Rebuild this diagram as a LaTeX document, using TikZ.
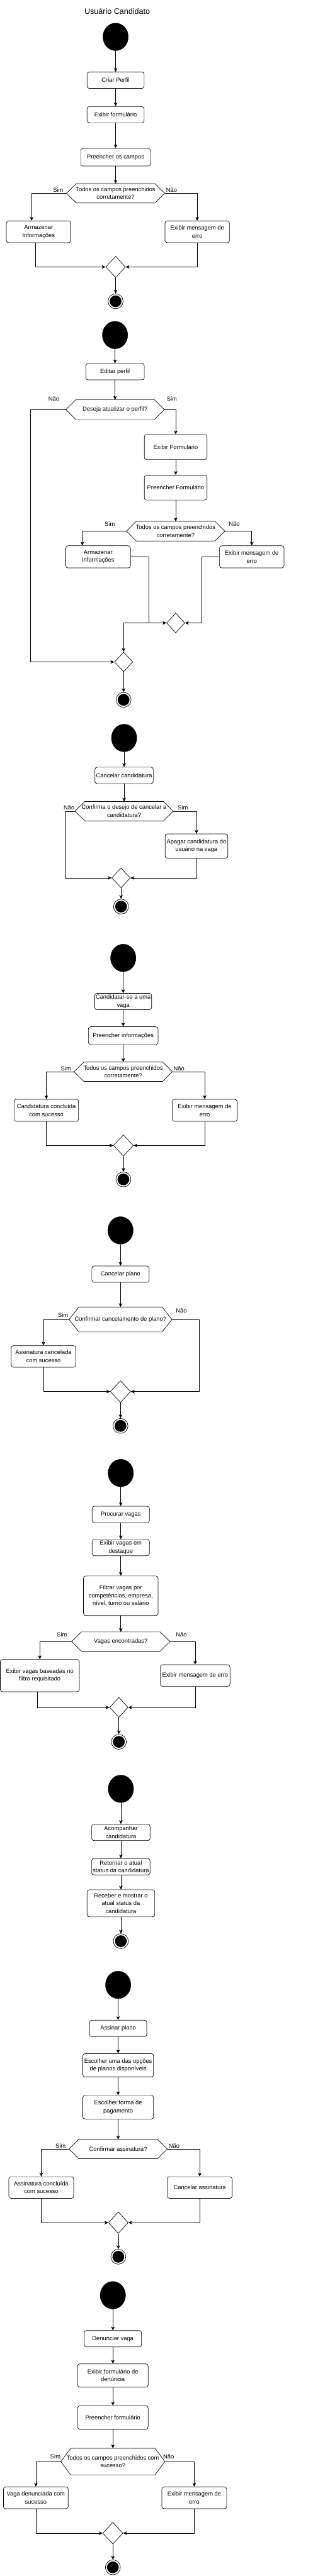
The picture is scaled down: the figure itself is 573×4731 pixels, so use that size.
\documentclass[tikz,border=0pt]{standalone}
\usepackage{fontspec}
\setmainfont{Liberation Sans}
\usetikzlibrary{shapes.geometric,arrows.meta,calc}
\newcommand{\dfont}{\fontsize{10.8pt}{14.5pt}\selectfont}
\newcommand{\hexdraw}[1]{\draw[line width=0.8pt] ([xshift=18pt]#1.north west) -- ([xshift=-18pt]#1.north east) -- (#1.east) -- ([xshift=-18pt]#1.south east) -- ([xshift=18pt]#1.south west) -- (#1.west) -- cycle;}
\tikzset{
  act/.style={draw, rounded corners=4pt, line width=0.8pt, align=center, inner sep=0pt, font=\dfont},
  dec/.style={draw=none, align=center, inner sep=0pt, font=\dfont},
  lbl/.style={font=\dfont, inner sep=0pt},
  startn/.style={ellipse, fill=black, draw=black, inner sep=0pt, minimum width=46.6pt, minimum height=50.6pt},
  endn/.style={circle, draw, line width=0.8pt, fill=white, minimum size=27.4pt, inner sep=0pt,
     path picture={\fill[black] (path picture bounding box.center) circle (10.8pt);}},
  merge/.style={diamond, draw, line width=0.8pt, inner sep=0pt},
  arr/.style={-{Stealth[length=7pt,width=6.5pt,inset=2pt]}, line width=0.8pt},
}
\begin{document}
\begin{tikzpicture}[x=1pt,y=-1pt]
\useasboundingbox (0,0) rectangle (573,4731);
\node[font=\fontsize{14.5pt}{17pt}\selectfont, inner sep=0pt] (title) at (215,21) {Usuário Candidato};

% ---------- Section 1
\node[startn] (s1) at (212,67.7) {};
\node[act, minimum width=104.7pt, minimum height=30pt] (b1) at (212,147.3) {Criar Perfil};
\node[act, minimum width=104.7pt, minimum height=29.7pt] (b2) at (212,210.5) {Exibir formulário};
\node[act, minimum width=128pt, minimum height=32.3pt] (b3) at (212,288.8) {Preencher os campos};
\node[dec, minimum width=180pt, minimum height=35pt] (d1) at (212,355) {Todos os campos preenchidos\\corretamente?};
\hexdraw{d1}
\node[lbl] (l1s) at (106.7,349.3) {Sim};
\node[lbl] (l1n) at (314.7,349.3) {Não};
\node[act, minimum width=118.3pt, minimum height=40pt] (a1) at (70.8,425.7) {Armazenar\\Informações};
\node[act, minimum width=118.3pt, minimum height=40pt] (e1) at (361.7,425.7) {Exibir mensagem de\\erro};
\node[merge, minimum width=36pt, minimum height=39.3pt] (m1) at (212,490.3) {};
\node[endn] (f1) at (212,553.3) {};
\draw[arr] (s1) -- (b1);
\draw[arr] (b1) -- (b2);
\draw[arr] (b2) -- (b3);
\draw[arr] (b3) -- (d1);
\draw[arr] (d1.west) -| ([xshift=-12.8pt]a1.north);
\draw[arr] (d1.east) -| (e1.north);
\draw[arr] ([xshift=-5.8pt]a1.south) |- (m1.west);
\draw[arr] (e1.south) |- (m1.east);
\draw[arr] (m1) -- (f1);

% ---------- Section 2
\node[startn] (s2) at (211,615.3) {};
\node[act, minimum width=107.3pt, minimum height=30pt] (b4) at (211,682.7) {Editar perfil};
\node[dec, minimum width=180pt, minimum height=35.7pt] (d2) at (211,752.2) {Deseja atualizar o perfil?};
\hexdraw{d2}
\node[lbl] (l2n) at (98.7,732.7) {Não};
\node[lbl] (l2s) at (315.3,732) {Sim};
\node[act, minimum width=115pt, minimum height=45.7pt] (b5) at (322.2,821) {Exibir Formulário};
\node[act, minimum width=115pt, minimum height=45.7pt] (b6) at (322.2,895.5) {Preencher Formulário};
\node[dec, minimum width=180pt, minimum height=35.7pt] (d3) at (322.2,975.5) {Todos os campos preenchidos\\corretamente?};
\hexdraw{d3}
\node[lbl] (l3s) at (201.3,962.7) {Sim};
\node[lbl] (l3n) at (429.7,962.7) {Não};
\node[act, minimum width=118.7pt, minimum height=40.7pt] (a2) at (180,1022.7) {Armazenar\\Informações};
\node[act, minimum width=118.3pt, minimum height=40.7pt] (e2) at (461.8,1022.7) {Exibir mensagem de\\erro};
\node[merge, minimum width=33.3pt, minimum height=36.7pt] (m2) at (322.2,1144) {};
\node[merge, minimum width=33.7pt, minimum height=36pt] (m3) at (226.7,1215.7) {};
\node[endn] (f2) at (226.7,1285.3) {};
\draw[arr] (s2) -- (b4);
\draw[arr] (b4) -- (d2);
\draw[arr] (d2.east) -| (b5.north);
\draw[arr] (b5) -- (b6);
\draw[arr] (b6) -- (d3);
\draw[arr] (d3.west) -| ([xshift=-29pt]a2.north);
\draw[arr] (d3.east) -| (e2.north);
\draw[arr] (a2.east) -- ++(33,0) |- (m2.west);
\draw[arr] (e2.west) -- ++(-32,0) |- (m2.east);
\draw[arr] (m2.west) -| (m3.north);
\draw[arr] (d2.west) -- ++(-65,0) |- (m3.west);
\draw[arr] (m3) -- (f2);

% ---------- Section 3
\node[startn] (s3) at (227.6,1355.3) {};
\node[act, minimum width=107pt, minimum height=30pt] (b7) at (227.6,1424) {Cancelar candidatura};
\node[dec, minimum width=180pt, minimum height=35pt] (d4) at (227.6,1489.8) {Confirma o desejo de cancelar a\\candidatura?};
\hexdraw{d4}
\node[lbl] (l4n) at (126.7,1483.7) {Não};
\node[lbl] (l4s) at (335.3,1483.7) {Sim};
\node[act, minimum width=115pt, minimum height=44.3pt] (b8) at (360.3,1553.8) {Apagar candidatura do\\usuário na vaga};
\node[merge, minimum width=34pt, minimum height=36.7pt] (m4) at (222,1612.3) {};
\node[endn] (f3) at (222,1665) {};
\draw[arr] (s3) -- (b7);
\draw[arr] (b7) -- (d4);
\draw[arr] (d4.east) -| (b8.north);
\draw[arr] (b8.south) |- (m4.east);
\draw[arr] (d4.west) -- ++(-18.4,0) |- (m4.west);
\draw[arr] (m4) -- (f3);

% ---------- Section 4
\node[startn] (s4) at (226,1759.3) {};
\node[act, minimum width=104.3pt, minimum height=30pt] (b9) at (226,1839.3) {Candidatar-se a uma\\vaga};
\node[act, minimum width=127.7pt, minimum height=32.7pt] (b10) at (226,1902) {Preencher informações};
\node[dec, minimum width=180pt, minimum height=35.3pt] (d5) at (226,1968.3) {Todos os campos preenchidos\\corretamente?};
\hexdraw{d5}
\node[lbl] (l5s) at (121,1962.3) {Sim};
\node[lbl] (l5n) at (328.3,1962.3) {Não};
\node[act, minimum width=118.3pt, minimum height=40.3pt] (a3) at (85,2039.2) {Candidatura concluída\\com sucesso};
\node[act, minimum width=118.7pt, minimum height=40.3pt] (e3) at (375.5,2039.2) {Exibir mensagem de\\erro};
\node[merge, minimum width=36.3pt, minimum height=39.3pt] (m5) at (226.3,2103.7) {};
\node[endn] (f4) at (226.3,2166) {};
\draw[arr] (s4) -- (b9);
\draw[arr] (b9) -- (b10);
\draw[arr] (b10) -- (d5);
\draw[arr] (d5.west) -| (a3.north);
\draw[arr] (d5.east) -| (e3.north);
\draw[arr] (a3.south) |- (m5.west);
\draw[arr] (e3.south) |- (m5.east);
\draw[arr] (m5) -- (f4);

% ---------- Section 5
\node[startn] (s5) at (221,2259.7) {};
\node[act, minimum width=105pt, minimum height=30pt] (b11) at (221,2340) {Cancelar plano};
\node[dec, minimum width=188.3pt, minimum height=45.3pt] (d6) at (221,2423.3) {Confirmar cancelamento de plano?};
\hexdraw{d6}
\node[lbl] (l6s) at (115.7,2415.7) {Sim};
\node[lbl] (l6n) at (332.7,2406.7) {Não};
\node[act, minimum width=118.3pt, minimum height=39.7pt] (a4) at (79.7,2491.2) {Assinatura cancelada\\com sucesso};
\node[merge, minimum width=37.3pt, minimum height=40pt] (m6) at (221,2555.7) {};
\node[endn] (f5) at (221,2618.7) {};
\draw[arr] (s5) -- (b11);
\draw[arr] (b11) -- (d6);
\draw[arr] (d6.west) -| (a4.north);
\draw[arr] (d6.east) -- ++(50.4,0) |- (m6.east);
\draw[arr] (a4.south) |- (m6.west);
\draw[arr] (m6) -- (f5);

% ---------- Section 6
\node[startn] (s6) at (221.5,2705.3) {};
\node[act, minimum width=105pt, minimum height=30.3pt] (b12) at (221.5,2781.5) {Procurar vagas};
\node[act, minimum width=105pt, minimum height=30pt] (b13) at (221.5,2842.3) {Exibir vagas em\\destaque};
\node[act, minimum width=136.7pt, minimum height=72.7pt] (b14) at (221.5,2930.7) {Filtrar vagas por\\competências, empresa,\\nível, turno ou salário};
\node[dec, minimum width=180pt, minimum height=35pt] (d7) at (221.5,3014.8) {Vagas encontradas?};
\hexdraw{d7}
\node[lbl] (l7s) at (113.7,3001.7) {Sim};
\node[lbl] (l7n) at (332.7,3001.7) {Não};
\node[act, minimum width=145pt, minimum height=59.3pt] (a5) at (73,3077.3) {Exibir vagas baseadas no\\filtro requisitado};
\node[act, minimum width=127.7pt, minimum height=39.7pt] (e5) at (358,3077.2) {Exibir mensagem de erro};
\node[merge, minimum width=33.7pt, minimum height=36.7pt] (m7) at (218,3135.7) {};
\node[endn] (f6) at (218,3199) {};
\draw[arr] (s6) -- (b12);
\draw[arr] (b12) -- (b13);
\draw[arr] (b13) -- (b14);
\draw[arr] (b14) -- (d7);
\draw[arr] (d7.west) -| (a5.north);
\draw[arr] (d7.east) -| (e5.north);
\draw[arr] ([xshift=-4.7pt]a5.south) |- (m7.west);
\draw[arr] (e5.south) |- (m7.east);
\draw[arr] (m7) -- (f6);

% ---------- Section 7
\node[startn] (s7) at (221.7,3285.3) {};
\node[act, minimum width=107pt, minimum height=30pt] (b15) at (221.7,3365.3) {Acompanhar\\candidatura};
\node[act, minimum width=107pt, minimum height=30pt] (b16) at (221.7,3428.3) {Retornar o atual\\status da candidatura};
\node[act, minimum width=124pt, minimum height=49.7pt] (b17) at (221.7,3495.5) {Receber e mostrar o\\atual status da\\candidatura};
\node[endn] (f7) at (221.7,3565) {};
\draw[arr] (s7) -- (b15);
\draw[arr] (b15) -- (b16);
\draw[arr] (b16) -- (b17);
\draw[arr] (b17) -- (f7);

% ---------- Section 8
\node[startn] (s8) at (216.7,3645.3) {};
\node[act, minimum width=105pt, minimum height=30pt] (b18) at (216.7,3725.3) {Assinar plano};
\node[act, minimum width=129.7pt, minimum height=42.7pt] (b19) at (216.7,3793) {Escolher uma das opções\\de planos disponíveis};
\node[act, minimum width=129.7pt, minimum height=43.3pt] (b20) at (216.7,3870) {Escolher forma de\\pagamento};
\node[dec, minimum width=180pt, minimum height=35pt] (d8) at (216.7,3946.8) {Confirmar assinatura?};
\hexdraw{d8}
\node[lbl] (l8s) at (111,3940.7) {Sim};
\node[lbl] (l8n) at (319.3,3940.7) {Não};
\node[act, minimum width=119pt, minimum height=39.7pt] (a6) at (75.7,4017.5) {Assinatura concluída\\com sucesso};
\node[act, minimum width=118.7pt, minimum height=39.7pt] (e6) at (366.3,4017.5) {Cancelar assinatura};
\node[merge, minimum width=36pt, minimum height=39.7pt] (m8) at (217,4082) {};
\node[endn] (f8) at (217,4144.7) {};
\draw[arr] (s8) -- (b18);
\draw[arr] (b18) -- (b19);
\draw[arr] (b19) -- (b20);
\draw[arr] (b20) -- (d8);
\draw[arr] (d8.west) -| (a6.north);
\draw[arr] (d8.east) -| (e6.north);
\draw[arr] (a6.south) |- (m8.west);
\draw[arr] (e6.south) |- (m8.east);
\draw[arr] (m8) -- (f8);

% ---------- Section 9
\node[startn] (s9) at (207,4215.3) {};
\node[act, minimum width=105pt, minimum height=30pt] (b21) at (207,4295.3) {Denunciar vaga};
\node[act, minimum width=129.3pt, minimum height=42.7pt] (b22) at (207,4362.7) {Exibir formulário de\\denúncia};
\node[act, minimum width=129.3pt, minimum height=43pt] (b23) at (207,4439.8) {Preencher formulário};
\node[dec, minimum width=190.3pt, minimum height=48.3pt] (d9) at (207,4520.8) {Todos os campos preenchidos com\\sucesso?};
\hexdraw{d9}
\node[lbl] (l9s) at (101.7,4511.7) {Sim};
\node[lbl] (l9n) at (309.3,4511.7) {Não};
\node[act, minimum width=118.7pt, minimum height=40pt] (a7) at (65.7,4587.3) {Vaga denunciada com\\sucesso};
\node[act, minimum width=118.7pt, minimum height=40pt] (e7) at (356.3,4587.3) {Exibir mensagem de\\erro};
\node[merge, minimum width=37pt, minimum height=40pt] (m9) at (207,4652.3) {};
\node[endn] (f9) at (207,4715) {};
\draw[arr] (s9) -- (b21);
\draw[arr] (b21) -- (b22);
\draw[arr] (b22) -- (b23);
\draw[arr] (b23) -- (d9);
\draw[arr] (d9.west) -| (a7.north);
\draw[arr] (d9.east) -| (e7.north);
\draw[arr] (a7.south) |- (m9.west);
\draw[arr] (e7.south) |- (m9.east);
\draw[arr] (m9) -- (f9);
\end{tikzpicture}
\end{document}
